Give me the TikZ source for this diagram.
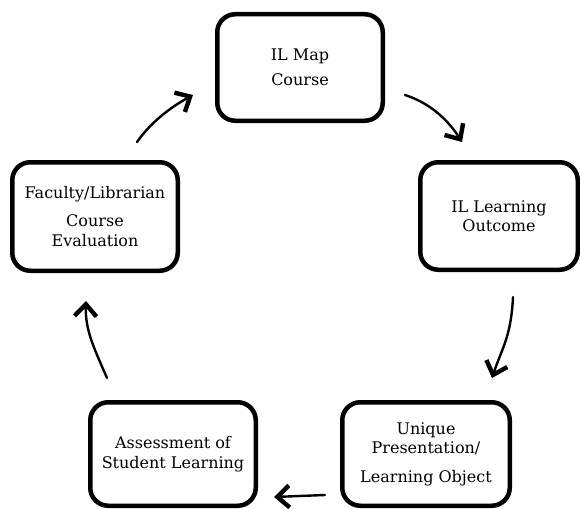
\documentclass[tikz,border=0pt]{standalone}
\usepackage{fontspec}
\setmainfont{DejaVu Serif}
\usetikzlibrary{arrows.meta}

\begin{document}
\begin{tikzpicture}[x=1pt, y=-1pt,
    stage/.style={draw, line width=4.5pt, rounded corners=18pt, align=center,
      inner sep=0pt, minimum width=165.5pt, minimum height=106.5pt},
    flow/.style={line width=2.4pt, line cap=round,
      -{Straight Barb[length=12pt, width=22pt, line width=4.4pt]}}]
  \fontsize{16}{19.5}\selectfont
  \useasboundingbox (0,0) rectangle (580,508);
  % the five stages of the cycle
  \node [stage] (map) at (300,67.5) {IL Map\\[6pt]Course};
  \node [stage, minimum width=157.5pt, minimum height=107.5pt] (outcome)
    at (499,216) {IL Learning\\Outcome};
  \node [stage, minimum width=167.5pt, minimum height=103.5pt] (present)
    at (426,454) {Unique\\Presentation/\\[9pt]Learning Object};
  \node [stage, minimum height=103.5pt] (assess) at (173,454)
    {Assessment of\\Student Learning};
  \node [stage, minimum height=108.5pt] (eval) at (95,216.5)
    {Faculty/Librarian\\[9pt]Course\\Evaluation};
  % arrow ends
  \coordinate (m1) at (405,95);  \coordinate (o1) at (462,142);
  \coordinate (o2) at (513,297); \coordinate (p2) at (492,378);
  \coordinate (p3) at (325,495); \coordinate (a3) at (274,497);
  \coordinate (a4) at (107,378); \coordinate (e4) at (86,301);
  \coordinate (e5) at (137,142); \coordinate (m5) at (193,95);
  \draw [flow] (m1) .. controls +(25,8) and +(-14,-22) .. (o1);
  \draw [flow] (o2) .. controls +(-2,40) and +(10,-30) .. (p2);
  \draw [flow] (p3) -- (a3);
  \draw [flow] (a4) .. controls +(-12,-28) and +(-1,30) .. (e4);
  \draw [flow] (e5) .. controls +(14,-20) and +(-22,12) .. (m5);
\end{tikzpicture}
\end{document}
